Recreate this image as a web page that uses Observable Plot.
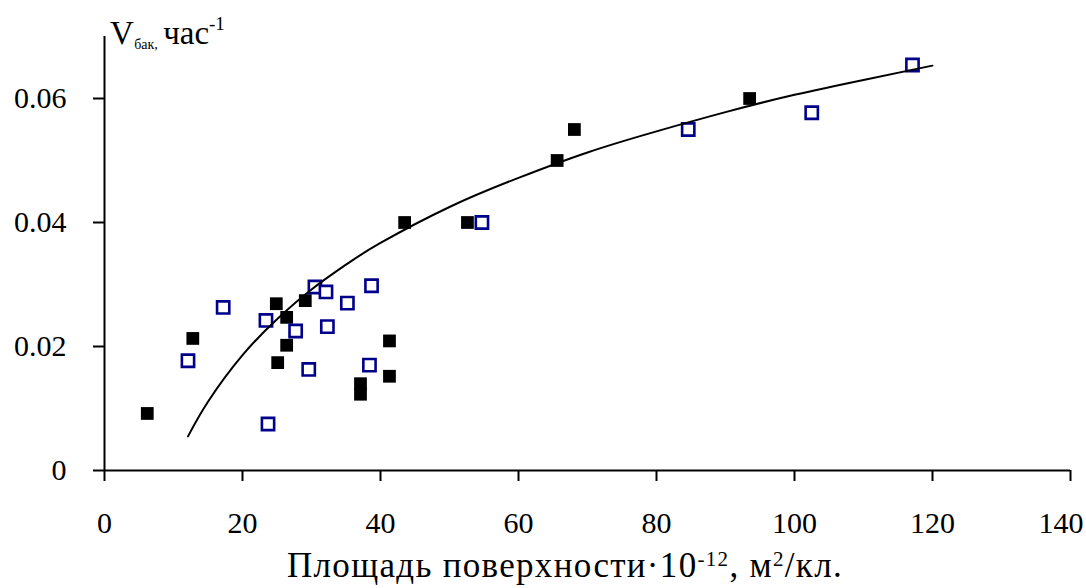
<!DOCTYPE html>
<html>
<head>
<meta charset="utf-8">
<script src="https://cdn.jsdelivr.net/npm/d3@7"></script>
<script src="https://cdn.jsdelivr.net/npm/@observablehq/plot@0.6"></script>
<style>
  html, body { margin: 0; padding: 0; background: #fff; }
  #chart svg { display: block; }
  #chart svg, #chart svg text { font-family: "Liberation Serif", "Times New Roman", serif !important; }
</style>
</head>
<body>
<div id="chart"></div>
<script>
// Filled black squares
const blackX = [6.2, 12.8, 24.9, 25.1, 26.4, 26.4, 29.1, 37.1, 37.1, 41.3, 41.3, 43.5, 52.6, 65.6, 68.1, 93.5];
const blackY = [0.0092, 0.0213, 0.0269, 0.0174, 0.0247, 0.0202, 0.0274, 0.0140, 0.0123, 0.0209, 0.0152, 0.0400, 0.0400, 0.0500, 0.0550, 0.0600];
// Open navy squares
const blueX = [12.1, 17.2, 23.4, 23.7, 27.7, 29.6, 30.5, 32.1, 32.3, 35.2, 38.4, 38.7, 54.7, 84.6, 102.5, 117.1];
const blueY = [0.0177, 0.0263, 0.0242, 0.0075, 0.0225, 0.0163, 0.0296, 0.0288, 0.0232, 0.0270, 0.0170, 0.0298, 0.0400, 0.0550, 0.0577, 0.0654];
// Trend curve
const trendX = [12.1, 15, 20, 25, 30, 35, 40, 50, 60, 70, 80, 90, 100, 110, 120];
const trendY = [0.0055, 0.0111, 0.0186, 0.0244, 0.0292, 0.0332, 0.0367, 0.0425, 0.0472, 0.0513, 0.0547, 0.0578, 0.0606, 0.0630, 0.0653];
// Ticks
const xTicks = [0, 20, 40, 60, 80, 100, 120, 140];
const yTicks = [0, 0.02, 0.04, 0.06];
const yTickLabels = ["0", "0.02", "0.04", "0.06"];

const black = blackX.map((x, i) => ({x, y: blackY[i]}));
const blue = blueX.map((x, i) => ({x, y: blueY[i]}));
const trend = trendX.map((x, i) => ({x, y: trendY[i]}));

const FONT = "Liberation Serif, Times New Roman, serif";

const chart = Plot.plot({
  width: 1086,
  height: 588,
  marginLeft: 104,
  marginRight: 16,
  marginTop: 36,
  marginBottom: 118,
  style: {fontFamily: FONT, fontSize: "30px", color: "#000", background: "#fff"},
  x: {domain: [0, 140], ticks: xTicks, label: null},
  y: {domain: [0, 0.07], ticks: yTicks, label: null},
  marks: [
    Plot.axisX({ticks: xTicks, tickSize: 11, tickPadding: 30, strokeWidth: 2, fontSize: 30, label: null, tickFormat: d => String(d)}),
    Plot.axisY({ticks: yTicks, tickSize: 11, tickPadding: 27, strokeWidth: 2, fontSize: 30, label: null, tickFormat: d => yTickLabels[yTicks.indexOf(d)]}),
    Plot.ruleY([0], {x1: 0, x2: 140, stroke: "#000", strokeWidth: 2}),
    Plot.ruleX([0], {y1: 0, y2: 0.07, stroke: "#000", strokeWidth: 2}),
    Plot.dot(black, {x: "x", y: "y", symbol: "square", r: 7.2, fill: "#000", stroke: "none"}),
    Plot.dot(blue, {x: "x", y: "y", symbol: "square", r: 6.9, fill: "#fff", stroke: "#00008b", strokeWidth: 2.6}),
    Plot.line(trend, {x: "x", y: "y", curve: "natural", stroke: "#000", strokeWidth: 2})
  ]
});

document.getElementById("chart").appendChild(chart);

const svg = d3.select(chart);

// keep the last x tick label inside the picture, as in the reference
svg.selectAll("text").filter(function() { return this.textContent === "140"; })
  .attr("text-anchor", "end").attr("dx", 13);

// Y title
const yt = svg.append("text")
  .attr("fill", "#000")
  .attr("y", 44);
yt.append("tspan").attr("x", 122).attr("font-size", 33).text("V");
yt.append("tspan").attr("x", 146).attr("dy", 5).attr("font-size", 14).text("бак,");
yt.append("tspan").attr("x", 194).attr("dy", -5).attr("font-size", 33).text("час");
yt.append("tspan").attr("dy", -14).attr("font-size", 19).text("-1");

// X title
const xt = svg.append("text")
  .attr("fill", "#000")
  .attr("font-size", 35)
  .attr("x", 565).attr("y", 577)
  .attr("text-anchor", "middle");
xt.append("tspan").text("Площадь поверхности·10");
xt.append("tspan").attr("dy", -11).attr("font-size", 21).text("-12");
xt.append("tspan").attr("dy", 11).text(", м");
xt.append("tspan").attr("dy", -11).attr("font-size", 21).text("2");
xt.append("tspan").attr("dy", 11).text("/кл.");
// spread the title slightly to the reference's span (about 287 to 843)
const w = xt.node().getComputedTextLength();
const n = xt.node().textContent.length;
if (w > 0 && w < 556) {
  xt.attr("letter-spacing", ((556 - w) / n).toFixed(2));
}
</script>
</body>
</html>
